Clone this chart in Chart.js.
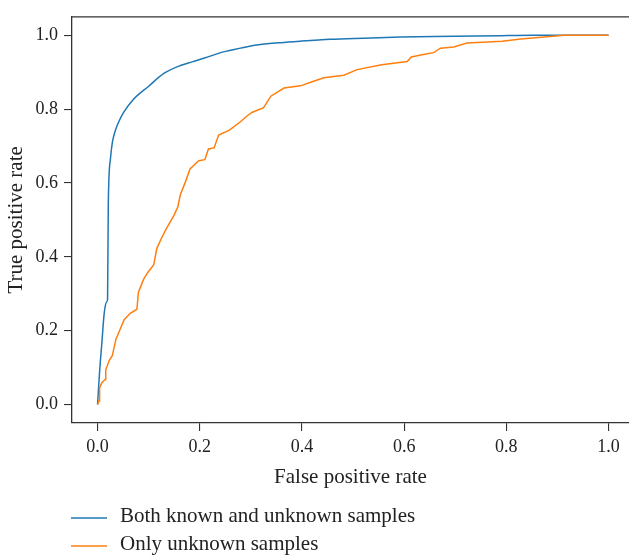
<!DOCTYPE html>
<html>
<head>
<meta charset="utf-8">
<script src="https://cdn.jsdelivr.net/npm/chart.js@4/dist/chart.umd.min.js"></script>
<style>
    body { margin: 0; background: #fff; overflow: hidden; }
    #rocChart { display: block; }
</style>
</head>
<body>
<canvas id="rocChart" width="629" height="558"></canvas>
<script>
// ROC curve points (false positive rate / true positive rate)
const fprBoth = [0, 0.004, 0.0085, 0.013, 0.018, 0.0196, 0.021, 0.0254, 0.029, 0.033, 0.04, 0.051, 0.07, 0.1, 0.129, 0.162, 0.185, 0.211, 0.241, 0.256, 0.293, 0.315, 0.358, 0.397, 0.456, 0.52, 0.593, 0.7, 0.789, 0.85, 1.0];
const tprBoth = [0, 0.089, 0.168, 0.247, 0.278, 0.285, 0.54, 0.668, 0.71, 0.734, 0.761, 0.791, 0.826, 0.862, 0.896, 0.918, 0.928, 0.939, 0.953, 0.958, 0.969, 0.974, 0.98, 0.984, 0.989, 0.992, 0.995, 0.997, 0.999, 1.0, 1.0];

const fprUnknown = [0, 0.003, 0.004, 0.0085, 0.015, 0.016, 0.023, 0.029, 0.036, 0.044, 0.052, 0.064, 0.077, 0.08, 0.09, 0.098, 0.11, 0.116, 0.126, 0.136, 0.149, 0.157, 0.162, 0.172, 0.181, 0.198, 0.21, 0.217, 0.228, 0.237, 0.258, 0.279, 0.293, 0.302, 0.325, 0.339, 0.365, 0.397, 0.42, 0.443, 0.482, 0.508, 0.556, 0.606, 0.614, 0.635, 0.658, 0.671, 0.697, 0.723, 0.792, 0.828, 0.88, 0.913, 1.0];
const tprUnknown = [0, 0.01, 0.045, 0.059, 0.068, 0.094, 0.12, 0.133, 0.177, 0.203, 0.23, 0.247, 0.258, 0.304, 0.339, 0.357, 0.379, 0.423, 0.453, 0.48, 0.511, 0.535, 0.568, 0.603, 0.638, 0.66, 0.663, 0.692, 0.695, 0.73, 0.743, 0.765, 0.782, 0.791, 0.804, 0.835, 0.857, 0.863, 0.874, 0.885, 0.892, 0.907, 0.92, 0.929, 0.941, 0.947, 0.953, 0.965, 0.968, 0.979, 0.984, 0.99, 0.996, 1.0, 1.0];

const seriesLabels = ['Both known and unknown samples', 'Only unknown samples'];
const seriesColors = ['#1f77b4', '#ff7f0e'];
const xTicks = [0, 0.2, 0.4, 0.6, 0.8, 1.0];
const yTicks = [0, 0.2, 0.4, 0.6, 0.8, 1.0];

const serif = "'Liberation Serif', 'Times New Roman', serif";
const inkColor = '#222';

function toPoints(xs, ys) {
    return xs.map((x, i) => ({ x: x, y: ys[i] }));
}

// matplotlib-like frame: top spine (the axis borders give left/bottom)
const topSpine = {
    id: 'topSpine',
    afterDraw(chart) {
        const { ctx, chartArea } = chart;
        ctx.save();
        ctx.strokeStyle = '#333';
        ctx.lineWidth = 1.3;
        ctx.beginPath();
        ctx.moveTo(chartArea.left, chartArea.top);
        ctx.lineTo(chartArea.right, chartArea.top);
        ctx.stroke();
        ctx.restore();
    }
};

// legend stacked under the x axis title, one row per dataset
const stackedLegend = {
    id: 'stackedLegend',
    afterDraw(chart) {
        const ctx = chart.ctx;
        const rows = [{ line: 518, text: 516.5 }, { line: 546, text: 544 }];
        ctx.save();
        ctx.font = '21px ' + serif;
        ctx.textBaseline = 'middle';
        ctx.textAlign = 'left';
        chart.data.datasets.forEach((ds, i) => {
            const r = rows[i];
            ctx.strokeStyle = ds.borderColor;
            ctx.lineWidth = 1.6;
            ctx.beginPath();
            ctx.moveTo(71, r.line);
            ctx.lineTo(107, r.line);
            ctx.stroke();
            ctx.fillStyle = inkColor;
            ctx.fillText(ds.label, 120, r.text);
        });
        ctx.restore();
    }
};

const ctx = document.getElementById('rocChart').getContext('2d');

new Chart(ctx, {
    type: 'line',
    data: {
        datasets: [
            {
                label: seriesLabels[0],
                data: toPoints(fprBoth, tprBoth),
                borderColor: seriesColors[0],
                borderWidth: 1.5,
                pointRadius: 0,
                cubicInterpolationMode: 'monotone',
                order: 1
            },
            {
                label: seriesLabels[1],
                data: toPoints(fprUnknown, tprUnknown),
                borderColor: seriesColors[1],
                borderWidth: 1.5,
                pointRadius: 0,
                tension: 0,
                order: 0
            }
        ]
    },
    options: {
        responsive: false,
        animation: false,
        layout: {
            padding: { left: 0, top: 5, right: 0, bottom: 68 }
        },
        scales: {
            x: {
                type: 'linear',
                min: -0.05,
                max: 1.04,
                afterBuildTicks: (scale) => { scale.ticks = xTicks.map(v => ({ value: v })); },
                afterFit: (scale) => { scale.height = 67; },
                border: { display: true, color: '#333', width: 1.3 },
                grid: { drawOnChartArea: false, drawTicks: true, tickLength: 8, color: '#333', lineWidth: 1.1 },
                ticks: {
                    padding: 5,
                    maxRotation: 0,
                    color: inkColor,
                    font: { family: serif, size: 18 },
                    callback: (v) => Number(v).toFixed(1)
                },
                title: {
                    display: true,
                    text: 'False positive rate',
                    color: inkColor,
                    font: { family: serif, size: 21 },
                    padding: 0
                }
            },
            y: {
                type: 'linear',
                min: -0.05,
                max: 1.05,
                afterBuildTicks: (scale) => { scale.ticks = yTicks.map(v => ({ value: v })); },
                afterFit: (scale) => { scale.width = 72; },
                border: { display: true, color: '#333', width: 1.3 },
                grid: { drawOnChartArea: false, drawTicks: true, tickLength: 8, color: '#333', lineWidth: 1.1 },
                ticks: {
                    padding: 6,
                    color: inkColor,
                    font: { family: serif, size: 18 },
                    callback: (v) => Number(v).toFixed(1)
                },
                title: {
                    display: true,
                    text: 'True positive rate',
                    color: inkColor,
                    font: { family: serif, size: 21 },
                    padding: { top: 4, bottom: 0 }
                }
            }
        },
        plugins: {
            legend: { display: false },
            tooltip: { enabled: false }
        }
    },
    plugins: [topSpine, stackedLegend]
});
</script>
</body>
</html>
